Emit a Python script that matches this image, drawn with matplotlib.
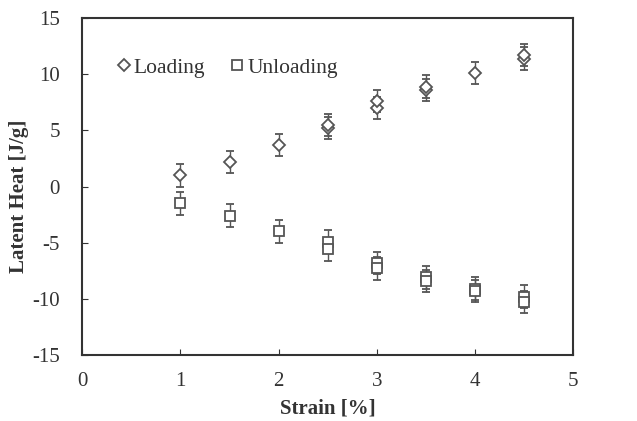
import matplotlib.pyplot as plt
from matplotlib.lines import Line2D

strain_load = [1.0, 1.5, 2.0, 2.5, 2.5, 3.0, 3.0, 3.5, 3.5, 4.0, 4.5, 4.5]
heat_load = [1.0, 2.2, 3.7, 5.2, 5.5, 7.0, 7.6, 8.6, 8.9, 10.1, 11.4, 11.7]
err_load = [1.0, 1.0, 1.0, 1.0, 1.0, 1.0, 1.0, 1.0, 1.0, 1.0, 1.0, 1.0]

strain_unload = [1.0, 1.5, 2.0, 2.5, 2.5, 3.0, 3.0, 3.5, 3.5, 4.0, 4.0, 4.5, 4.5]
heat_unload = [-1.5, -2.6, -4.0, -4.9, -5.6, -6.8, -7.3, -8.1, -8.4, -9.1, -9.3, -9.8, -10.3]
err_unload = [1.0, 1.0, 1.0, 1.0, 1.0, 1.0, 1.0, 1.0, 1.0, 1.0, 1.0, 1.0, 1.0]

plt.rcParams['font.family'] = ['Liberation Serif', 'DejaVu Serif']
plt.rcParams['axes.unicode_minus'] = False

fig = plt.figure(figsize=(6.37, 4.21), dpi=100)
ax = fig.add_axes([0.129, 0.157, 0.771, 0.8])

col = '#555555'
ax.errorbar(strain_load, heat_load, yerr=err_load, fmt='D', ms=6.5, mfc='white', mec=col,
            mew=1.3, ecolor=col, elinewidth=1, capsize=3, linestyle='none')
ax.errorbar(strain_unload, heat_unload, yerr=err_unload, fmt='s', ms=7, mfc='white', mec=col,
            mew=1.3, ecolor=col, elinewidth=1, capsize=3, linestyle='none')

ax.set_xlim(0, 5)
ax.set_ylim(-15, 15)
ax.set_xticks([0, 1, 2, 3, 4, 5])
ax.set_yticks([-15, -10, -5, 0, 5, 10, 15])
ax.tick_params(direction='in', length=4, color='#333333', labelsize=15, labelcolor='#333333')
ax.tick_params(axis='x', pad=12)
ax.tick_params(axis='y', pad=16)
for s in ax.spines.values():
    s.set_linewidth(1.5)
    s.set_color('#333333')

ax.set_xlabel('Strain [%]', fontsize=15, fontweight='bold', labelpad=6, color='#333333')
ax.set_ylabel('Latent Heat [J/g]', fontsize=15, fontweight='bold', color='#333333')
ax.yaxis.set_label_coords(-0.108, 0.47)

handles = [Line2D([], [], marker='D', ms=6, mfc='white', mec=col, mew=1.3, ls='none'),
           Line2D([], [], marker='s', ms=7, mfc='white', mec=col, mew=1.3, ls='none')]
ax.legend(handles, ['Loading', 'Unloading'], loc='upper left', bbox_to_anchor=(0.028, 0.94),
          ncol=2, frameon=False, fontsize=15.5, handletextpad=0.05, columnspacing=1.1,
          handlelength=0.8, labelcolor='#333333')

fig.savefig('out.png', dpi=100)
